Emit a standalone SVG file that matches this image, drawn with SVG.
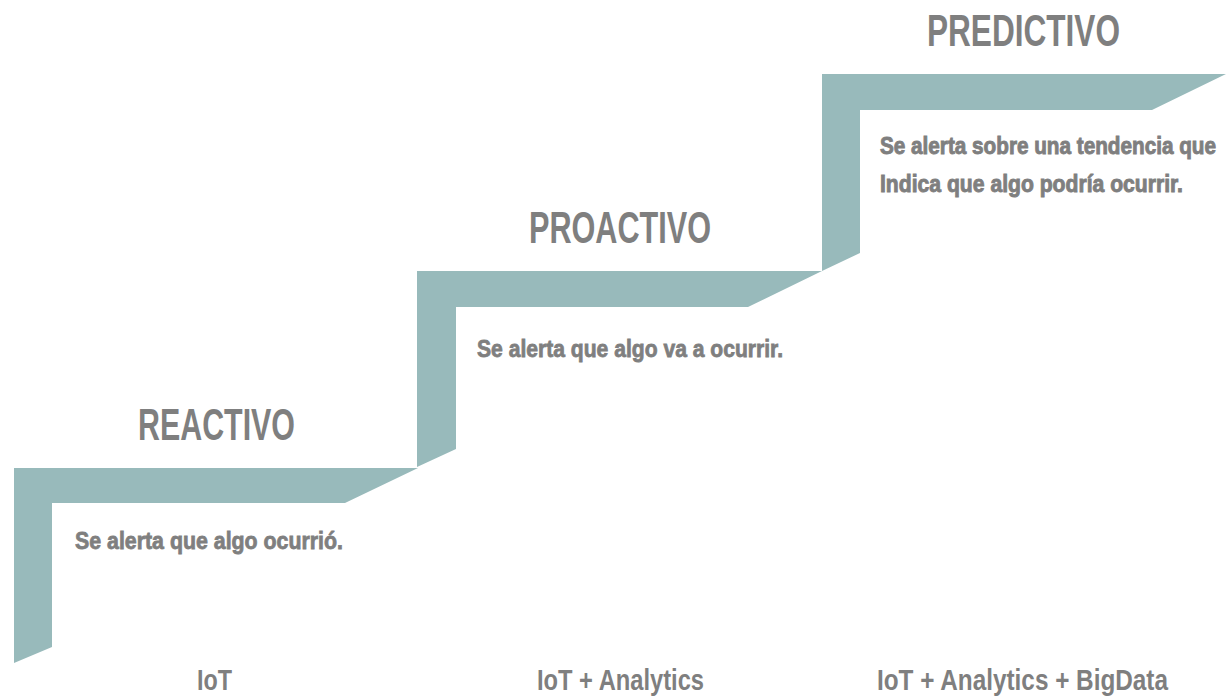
<svg xmlns="http://www.w3.org/2000/svg" width="1232" height="696" viewBox="0 0 1232 696">
<style>
.step{fill:#98BABB;}
.title{font-family:"Liberation Sans",Arial,sans-serif;font-weight:bold;font-size:45px;fill:#7F7F7F;}
.desc{font-family:"Liberation Sans",Arial,sans-serif;font-weight:bold;font-size:24px;fill:#7F7F7F;stroke:#7F7F7F;stroke-width:0.8px;}
.desc-s{font-size:18px;stroke-width:0.7px;}
.tech{font-family:"Liberation Sans",Arial,sans-serif;font-weight:bold;font-size:29px;fill:#7F7F7F;}
</style>
<rect width="1232" height="696" fill="#FFFFFF"/>
<g id="step-reactivo">
<polygon class="step" points="14,468 418,468 345,503 52,503 52,647 14,663"/>
<text class="title" x="138" y="440" textLength="157" lengthAdjust="spacingAndGlyphs">REACTIVO</text>
<text class="desc" x="75" y="549" textLength="268" lengthAdjust="spacingAndGlyphs">Se alerta que algo ocurrió.</text>
<text class="tech" x="197" y="690" textLength="35" lengthAdjust="spacingAndGlyphs">IoT</text>
</g>
<g id="step-proactivo">
<polygon class="step" points="417,271 822,271 748,307 456,307 456,449 417,467"/>
<text class="title" x="529" y="243" textLength="182" lengthAdjust="spacingAndGlyphs">PROACTIVO</text>
<text class="desc" x="477" y="357" textLength="306" lengthAdjust="spacingAndGlyphs">Se alerta que algo va a ocurrir.</text>
<text class="tech" x="537" y="690" textLength="167" lengthAdjust="spacingAndGlyphs">IoT + Analytics</text>
</g>
<g id="step-predictivo">
<polygon class="step" points="822,74 1226,74 1152,110 860,110 860,253 822,271"/>
<text class="title" x="927" y="46" textLength="193" lengthAdjust="spacingAndGlyphs">PREDICTIVO</text>
<text class="desc desc-s" transform="translate(880,154) scale(1,1.333)" x="0" y="0" textLength="336" lengthAdjust="spacingAndGlyphs">Se alerta sobre una tendencia que</text>
<text class="desc desc-s" transform="translate(880,192) scale(1,1.333)" x="0" y="0" textLength="303" lengthAdjust="spacingAndGlyphs">Indica que algo podría ocurrir.</text>
<text class="tech" x="877" y="690" textLength="291" lengthAdjust="spacingAndGlyphs">IoT + Analytics + BigData</text>
</g>
<g id="connectors"></g>
</svg>
